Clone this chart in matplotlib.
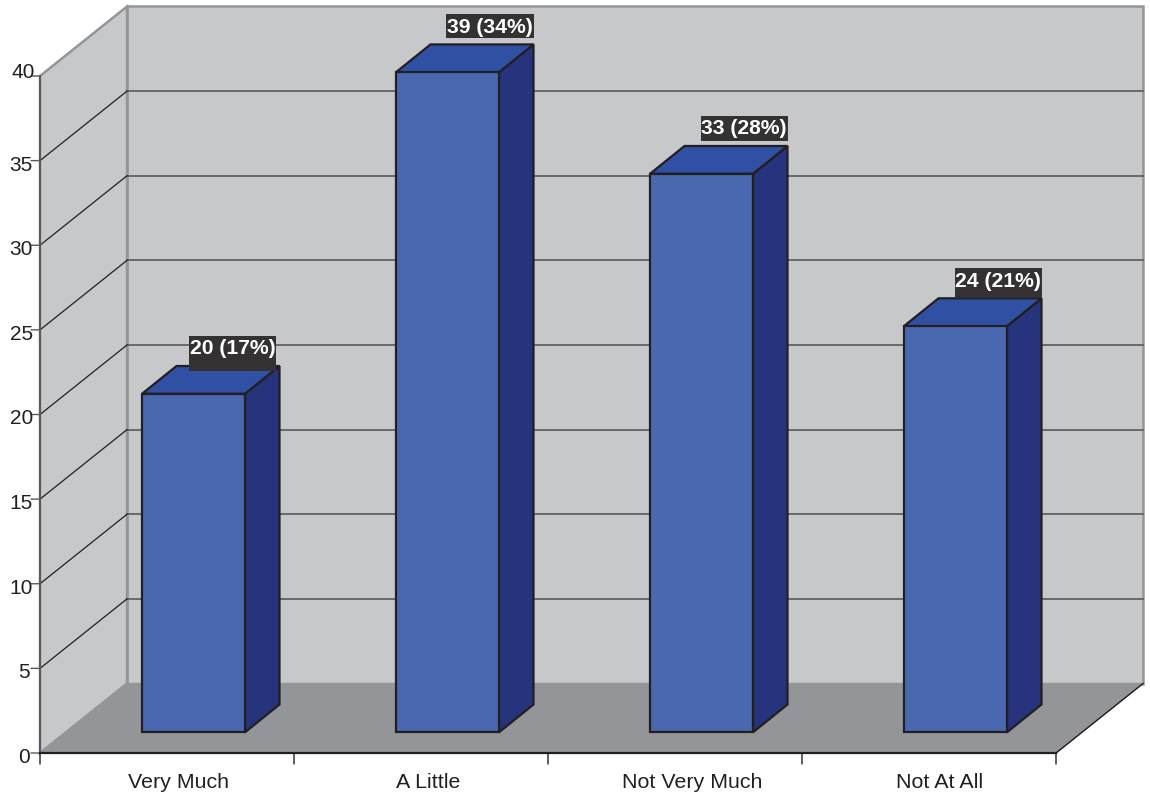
import matplotlib
matplotlib.use("Agg")
import matplotlib.pyplot as plt
from matplotlib.patches import Polygon, Rectangle

categories = ["Very Much", "A Little", "Not Very Much", "Not At All"]
values = [20, 39, 33, 24]
percents = [17, 34, 28, 21]
y_ticks = [0, 5, 10, 15, 20, 25, 30, 35, 40]

W, H = 1150, 796
X0, X1, Y0, Y1 = 40, 1056, 753, 76
PX_X = 254.0       # pixels per category
PX_Y = 16.925      # pixels per value unit
DX = 87 / PX_X     # wall depth in category units
DY = 69.5 / PX_Y   # wall depth in value units
BX = 34.5 / PX_X   # bar depth
BY = 27.8 / PX_Y
BAR_W = 103 / PX_X
BAR_L = 102 / PX_X
BASE = 20.7 / PX_Y

# placement quirks of the reference, in pixels
xlabel_shift = [12, 7, 17, 11]
ylabel_right = {40: 35, 5: 30, 0: 30}
ylabel_drop = {40: -3}
label_box_shift = [-3.5, 0, 0, 0]
label_box_below = [23, 12, 13, 18]

PT = 0.72  # points per pixel at dpi 100

plt.rcParams["font.family"] = ["Liberation Sans", "DejaVu Sans"]
fig = plt.figure(figsize=(W / 100, H / 100), dpi=100, facecolor="white")
ax = fig.add_axes([X0 / W, 1 - Y0 / H, (X1 - X0) / W, (Y0 - Y1) / H])
ax.set_xlim(0, len(categories))
ax.set_ylim(0, 40)
ax.axis("off")

WALL = "#c7c8ca"; FLOOR = "#939598"; EDGE = "#939598"; GRID = "#58595b"; INK = "#231f20"
n = len(categories)
top = y_ticks[-1]

# walls and floor
ax.add_patch(Polygon([(DX, DY), (n + DX, DY), (n + DX, top + DY), (DX, top + DY)], fc=WALL, ec=EDGE, lw=1.8, clip_on=False, zorder=1))
ax.add_patch(Polygon([(0, 0), (DX, DY), (DX, top + DY), (0, top)], fc=WALL, ec=EDGE, lw=1.8, clip_on=False, zorder=1))
ax.add_patch(Polygon([(0, 0), (n, 0), (n + DX, DY), (DX, DY)], fc=FLOOR, ec=EDGE, lw=1.0, clip_on=False, zorder=2))
ax.plot([n, n + DX], [0, DY], color=INK, lw=1.0, clip_on=False, zorder=3)
ax.plot([0, 0], [0, top], color=GRID, lw=1.4, clip_on=False, zorder=3)

# gridlines and y ticks
for t in y_ticks[1:-1]:
    ax.plot([DX, n + DX], [t + DY, t + DY], color=GRID, lw=1.2, clip_on=False, zorder=2)
    ax.plot([0, DX], [t, t + DY], color=INK, lw=0.9, clip_on=False, zorder=2)
for t in y_ticks:
    ax.annotate("", xy=(0, t), xytext=(-9 * PT, 0), textcoords="offset points", annotation_clip=False,
                arrowprops=dict(arrowstyle="-", color=GRID, lw=1.0, shrinkA=0, shrinkB=0))
    right = ylabel_right.get(t, 33)
    drop = ylabel_drop.get(t, 4.5)
    ax.annotate(str(t), xy=(0, t), xytext=((right - X0) * PT, -drop * PT), textcoords="offset points",
                ha="right", va="center", fontsize=15, color=INK, annotation_clip=False)

# x axis
ax.plot([0, n], [0, 0], color=INK, lw=1.6, clip_on=False, zorder=6)
for i in range(n + 1):
    ax.annotate("", xy=(i, 0), xytext=(0, -11 * PT), textcoords="offset points", annotation_clip=False,
                arrowprops=dict(arrowstyle="-", color=INK, lw=1.0, shrinkA=0, shrinkB=0))
for i, c in enumerate(categories):
    ax.annotate(c, xy=(i + 0.5, 0), xytext=(xlabel_shift[i] * PT, -29.5 * PT), textcoords="offset points",
                ha="center", va="center", fontsize=15.4, color=INK, annotation_clip=False)

# bars
for i, (v, p) in enumerate(zip(values, percents)):
    l, r = i + BAR_L, i + BAR_L + BAR_W
    b, t = BASE, BASE + v
    kw = dict(ec=INK, lw=1.6, joinstyle="miter", clip_on=False, zorder=4)
    ax.add_patch(Polygon([(r, b), (r + BX, b + BY), (r + BX, t + BY), (r, t)], fc="#25347c", **kw))
    ax.add_patch(Polygon([(l, t), (r, t), (r + BX, t + BY), (l + BX, t + BY)], fc="#2f50a3", **kw))
    ax.add_patch(Rectangle((l, b), BAR_W, t - b, fc="#4a68b0", **kw))
    # data label: dark box, top 30 px above the bar's back edge
    bx = r + BX + label_box_shift[i] / PX_X
    cy = t + BY + 18 / PX_Y
    ax.add_patch(Rectangle((bx - 87 / PX_X, cy - label_box_below[i] / PX_Y), 87 / PX_X,
                           (12 + label_box_below[i]) / PX_Y, fc="#333132", ec="none", clip_on=False, zorder=6))
    ax.text(bx - 43.5 / PX_X, cy - 1 / PX_Y, f"{v} ({p}%)", ha="center", va="center", fontsize=15.2, fontweight="bold",
            color="white", zorder=7, clip_on=False)

fig.savefig("out.png", dpi=100, facecolor="white")
